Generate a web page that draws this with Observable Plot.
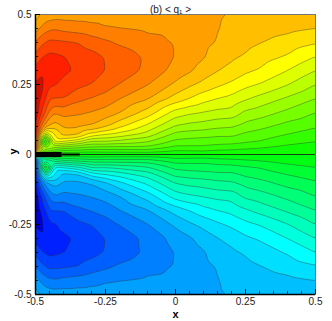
<!DOCTYPE html>
<html><head><meta charset="utf-8">
<script src="https://cdn.jsdelivr.net/npm/d3@7"></script>
<script src="https://cdn.jsdelivr.net/npm/@observablehq/plot@0.6"></script>
<style>html,body{margin:0;padding:0;background:#fff}svg{display:block}</style>
</head><body><div id="chart"></div>
<script>
const xs=[-0.5,-0.49,-0.465,-0.45,-0.43,-0.4,-0.35,-0.3,-0.25,-0.2,-0.1,0,0.05,0.1,0.15,0.2,0.25,0.3,0.4,0.5];
const ys=[0.5,0.45,0.4,0.35,0.3,0.25,0.2,0.15,0.1,0.07,0.045,0.025,0.01,0,-0.01,-0.025,-0.045,-0.07,-0.1,-0.15,-0.2,-0.25,-0.3,-0.35,-0.4,-0.45,-0.5];
const q1=[
[9.5,9.8,10.3,10.4,10.5,10.5,10.5,10.5,10.5,10.55,10.6,10.5,10.4,10.25,10.1,9.95,9.88,9.85,9.85,9.85],
[10.3,10.9,11.6,11.8,11.9,11.7,11.55,11.35,11.1,11,10.85,10.75,10.55,10.3,10.05,9.75,9.6,9.5,9.25,9],
[11.8,12.5,13,13.3,13.2,13.15,13,12.55,12.2,11.85,11.3,10.92,10.65,10.25,9.95,9.5,9.3,9.05,8.6,8.1],
[13,13.7,14.1,14.3,14.2,14.05,13.6,13.35,12.9,12.6,11.8,10.95,10.55,10.1,9.5,9.2,8.9,8.5,7.9,7],
[14.2,14.6,14.95,14.6,14.5,14.25,13.85,13.75,12.95,12.75,11.7,10.65,10.15,9.55,9.05,8.7,8.2,7.9,7,6],
[15.1,15.3,14.9,14.2,14.1,13.65,13.3,12.95,12.45,11.95,11.05,9.8,9.2,8.7,8.2,7.8,7.3,6.95,6.05,5],
[15.8,15.4,14.2,13,13,13,12.3,11.95,11.65,11.05,10.1,8.6,8,7.4,7,6.7,6.15,5.7,4.85,4],
[16,15,13,11.7,11.05,11.4,11.2,10.95,10.6,10.05,8.6,6.6,6.2,5.95,5.7,5.6,4.8,4.5,3.75,3],
[16,13,10.5,9.9,9.4,10.15,10.15,9.85,9.1,8.2,6.7,4.9,4.6,4.45,4.2,4.1,3.6,3.3,2.6,2.1],
[16.5,11,5,7,8,9.3,9.05,7.5,6.9,6.5,5.5,3.6,3.45,3.35,3.2,3.2,2.75,2.5,1.95,1.5],
[17,8,-2,3.5,7.5,6.9,6.1,4.8,4.9,4.6,4,2.7,2.55,2.45,2.35,2.3,2.1,1.95,1.3,0.97],
[17.5,9,4.5,5.5,4,3.5,3.1,2.8,2.7,2.7,2.7,1.7,1.75,1.8,1.6,1.5,1.3,1.1,0.75,0.55],
[18,6,3,3,2,1.4,1.3,1.1,1.3,1.3,1.4,0.8,0.85,0.9,0.7,0.6,0.5,0.45,0.3,0.2],
[0,0,0,0,0,0,0,0,0,0,0,0,0,0,0,0,0,0,0,0],
[-18,-6,-3,-3,-2,-1.4,-1.3,-1.1,-1.3,-1.3,-1.4,-0.8,-0.85,-0.9,-0.7,-0.6,-0.5,-0.45,-0.3,-0.2],
[-17.5,-9,-4.5,-5.5,-4,-3.5,-3.1,-2.8,-2.7,-2.7,-2.7,-1.7,-1.75,-1.8,-1.6,-1.5,-1.3,-1.1,-0.75,-0.55],
[-17,-8,2,-3.5,-7.5,-6.9,-6.1,-4.8,-4.9,-4.6,-4,-2.7,-2.55,-2.45,-2.35,-2.3,-2.1,-1.95,-1.3,-0.97],
[-16.5,-11,-5,-7,-8,-9.3,-9.05,-7.5,-6.9,-6.5,-5.5,-3.6,-3.45,-3.35,-3.2,-3.2,-2.75,-2.5,-1.95,-1.5],
[-16,-13,-10.5,-9.9,-9.4,-10.15,-10.15,-9.85,-9.1,-8.2,-6.7,-4.9,-4.6,-4.45,-4.2,-4.1,-3.6,-3.3,-2.6,-2.1],
[-16,-15,-13,-11.7,-11.05,-11.4,-11.2,-10.95,-10.6,-10.05,-8.6,-6.6,-6.2,-5.95,-5.7,-5.6,-4.8,-4.5,-3.75,-3],
[-15.8,-15.4,-14.2,-13,-13,-13,-12.3,-11.95,-11.65,-11.05,-10.1,-8.6,-8,-7.4,-7,-6.7,-6.15,-5.7,-4.85,-4],
[-15.1,-15.3,-14.9,-14.2,-14.1,-13.65,-13.3,-12.95,-12.45,-11.95,-11.05,-9.8,-9.2,-8.7,-8.2,-7.8,-7.3,-6.95,-6.05,-5],
[-14.2,-14.6,-14.95,-14.6,-14.5,-14.25,-13.85,-13.75,-12.95,-12.75,-11.7,-10.65,-10.15,-9.55,-9.05,-8.7,-8.2,-7.9,-7,-6],
[-13,-13.7,-14.1,-14.3,-14.2,-14.05,-13.6,-13.35,-12.9,-12.6,-11.8,-10.95,-10.55,-10.1,-9.5,-9.2,-8.9,-8.5,-7.9,-7],
[-11.8,-12.5,-13,-13.3,-13.2,-13.15,-13,-12.55,-12.2,-11.85,-11.3,-10.92,-10.65,-10.25,-9.95,-9.5,-9.3,-9.05,-8.6,-8.1],
[-10.3,-10.9,-11.6,-11.8,-11.9,-11.7,-11.55,-11.35,-11.1,-11,-10.85,-10.75,-10.55,-10.3,-10.05,-9.75,-9.6,-9.5,-9.25,-9],
[-9.5,-9.8,-10.3,-10.4,-10.5,-10.5,-10.5,-10.5,-10.5,-10.55,-10.6,-10.5,-10.4,-10.25,-10.1,-9.95,-9.88,-9.85,-9.85,-9.85]
];
const levels=[-99,-18,-17,-16,-15,-14,-13,-12,-11,-10,-9,-8,-7,-6,-5,-4,-3,-2,-1,0,1,2,3,4,5,6,7,8,9,10,11,12,13,14,15,16,17,18];
const bandColors=["#000070","#000080","#0000a0","#0000d0","#0020ff","#0040ff","#0060ff","#0080ff","#00a0ff","#00bfff","#00dfff","#00ffff","#00ffdd","#00ffbb","#00ff99","#00ff77","#00ff55","#00ff33","#00ff11","#11ff00","#33ff00","#55ff00","#77ff00","#99ff00","#bbff00","#ddff00","#ffff00","#ffdf00","#ffbf00","#ffa000","#ff8000","#ff6000","#ff4000","#ff2000","#d01000","#a00000","#800000","#700000"];
const majorTicks=[-0.5,-0.25,0,0.25,0.5];
const minorTicks=[-0.45,-0.4,-0.35,-0.3,-0.2,-0.15,-0.1,-0.05,0.05,0.1,0.15,0.2,0.3,0.35,0.4,0.45];
const fmt=d=>d===0?"0":String(d);
const points=[];
ys.forEach((y,i)=>xs.forEach((x,j)=>points.push({x,y,q:q1[i][j]})));
const ink="#222";
const chart=Plot.plot({
  width:332,height:321,marginLeft:35,marginRight:17,marginTop:14,marginBottom:27,
  style:{fontFamily:"Liberation Sans, Arial, sans-serif",fontSize:"10px",background:"#fff",overflow:"visible"},
  x:{domain:[-0.5,0.5]},y:{domain:[-0.5,0.5]},
  color:{type:"ordinal",domain:levels,range:bandColors},
  marks:[
    Plot.contour(points,{x:"x",y:"y",fill:"q",interpolate:"barycentric",thresholds:levels,pixelSize:1,blur:1.5,stroke:"#333",strokeWidth:0.6,strokeOpacity:0.65,smooth:true}),
    Plot.ruleY([0],{x1:-0.5,x2:-0.405,stroke:"#000",strokeWidth:5}),
    Plot.ruleY([0],{x1:-0.405,x2:-0.34,stroke:"#000",strokeWidth:2}),
    Plot.ruleY([0],{x1:-0.34,x2:0.5,stroke:"#114411",strokeWidth:1}),
    Plot.frame({stroke:"#777",strokeWidth:1}),
    Plot.ruleX([-0.5],{stroke:"#000",strokeWidth:1.5}),
    Plot.ruleY([-0.5],{stroke:"#000",strokeWidth:1.5}),
    Plot.ruleX(majorTicks,{y1:-0.5,y2:-0.482,stroke:"#000"}),
    Plot.ruleX(minorTicks,{y1:-0.5,y2:-0.489,stroke:"#000",strokeWidth:0.8}),
    Plot.ruleY(majorTicks,{x1:-0.5,x2:-0.482,stroke:"#000"}),
    Plot.ruleY(minorTicks,{x1:-0.5,x2:-0.489,stroke:"#000",strokeWidth:0.8}),
    Plot.axisX({ticks:majorTicks,tickSize:0,tickPadding:3,tickFormat:fmt,label:null,fill:ink,fontSize:10}),
    Plot.axisY({ticks:majorTicks,tickSize:0,tickPadding:4,tickFormat:fmt,label:null,fill:ink,fontSize:10}),
    Plot.text(["x"],{frameAnchor:"bottom",dy:23,text:d=>d,fontWeight:"bold",fontSize:11,fill:"#000"}),
    Plot.text(["y"],{frameAnchor:"left",dx:-22,text:d=>d,fontWeight:"bold",fontSize:11,rotate:-90,fill:"#000"}),
    Plot.text(["(b) < q\u2081 >"],{frameAnchor:"top",dx:-5,dy:-9,text:d=>d,fontSize:10,fill:ink})
  ]
});
document.getElementById("chart").append(chart);
</script></body></html>
